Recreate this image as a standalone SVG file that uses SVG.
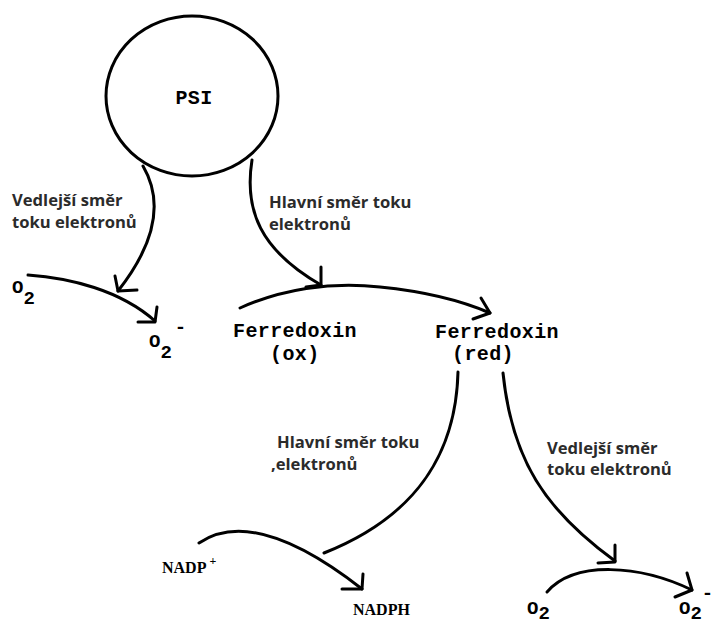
<svg xmlns="http://www.w3.org/2000/svg" width="712" height="625" viewBox="0 0 712 625">
<style>
.ln{fill:none;stroke:#000;stroke-width:3;stroke-linecap:round;stroke-linejoin:round}
.mono{font-family:"Liberation Mono","DejaVu Sans Mono",monospace;font-weight:bold;fill:#000}
.big{font-size:20px;letter-spacing:0.4px}
.chem{font-size:19px}
.serif{font-family:"Liberation Serif","Times New Roman",serif;font-weight:bold;fill:#000;font-size:16px}
.lbl{font-family:"Open Sans","Noto Sans",sans-serif;font-weight:bold;font-size:16.6px;fill:#2b2b2b}
</style>
<rect width="712" height="625" fill="#fff"/>
<g id="psi">
<ellipse cx="192" cy="96" rx="86" ry="80" class="ln"/>
<text x="194" y="104" text-anchor="middle" class="mono big">PSI</text>
</g>
<g id="o2-left"><text x="12" y="293" class="mono chem">O<tspan dy="11">2</tspan></text></g>
<g id="o2minus-left"><text x="149" y="347" class="mono chem">O<tspan dy="11">2</tspan><tspan dx="3" dy="-25">-</tspan></text></g>
<g id="ferredoxin-ox">
<text x="233" y="337" class="mono big">Ferredoxin</text>
<text x="270" y="360" class="mono big">(ox)</text>
</g>
<g id="ferredoxin-red">
<text x="435" y="338" class="mono big">Ferredoxin</text>
<text x="452" y="360" class="mono big">(red)</text>
</g>
<g id="nadp"><text x="162" y="573" class="serif">NADP<tspan dx="3" dy="-8" font-size="12">+</tspan></text></g>
<g id="nadph"><text x="353" y="615" class="serif">NADPH</text></g>
<g id="o2-right"><text x="527" y="614" class="mono chem">O<tspan dy="5">2</tspan></text></g>
<g id="o2minus-right"><text x="679" y="614" class="mono chem">O<tspan dy="5">2</tspan><tspan dx="0" dy="-20">-</tspan></text></g>
<g id="labels">
<text class="lbl"><tspan x="12" y="206">Vedlejší směr</tspan><tspan x="12" y="228">toku elektronů</tspan></text>
<text class="lbl"><tspan x="269" y="208">Hlavní směr toku</tspan><tspan x="269" y="230">elektronů</tspan></text>
<text class="lbl"><tspan x="277" y="448">Hlavní směr toku</tspan><tspan x="271" y="470">,elektronů</tspan></text>
<text class="lbl"><tspan x="547" y="454">Vedlejší směr</tspan><tspan x="547" y="475">toku elektronů</tspan></text>
</g>
<g id="connectors">
<path class="ln" d="M143,166 C160,195 162,235 118,291"/>
<path class="ln" d="M115,276 L118,291 L137,290"/>
<path class="ln" d="M28,275 C70,278 120,290 155,321"/>
<path class="ln" d="M157,307 L155,322 L138,322"/>
<path class="ln" d="M252,160 C244,210 260,250 321,285"/>
<path class="ln" d="M321,267 L321,285 L306,287"/>
<path class="ln" d="M240,308 C280,290 330,281 380,287 C420,291 460,300 490,313"/>
<path class="ln" d="M481,298 L490,313 L473,319"/>
<path class="ln" d="M458,372 C456,450 420,515 324,553"/>
<path class="ln" d="M199,543 C230,522 280,525 362,589"/>
<path class="ln" d="M363,574 L362,589 L342,589"/>
<path class="ln" d="M503,373 C512,460 545,510 615,561"/>
<path class="ln" d="M615,545 L615,562 L598,563"/>
<path class="ln" d="M547,592 C575,560 640,565 692,590"/>
<path class="ln" d="M687,573 L692,590 L675,597"/>
</g>
</svg>
